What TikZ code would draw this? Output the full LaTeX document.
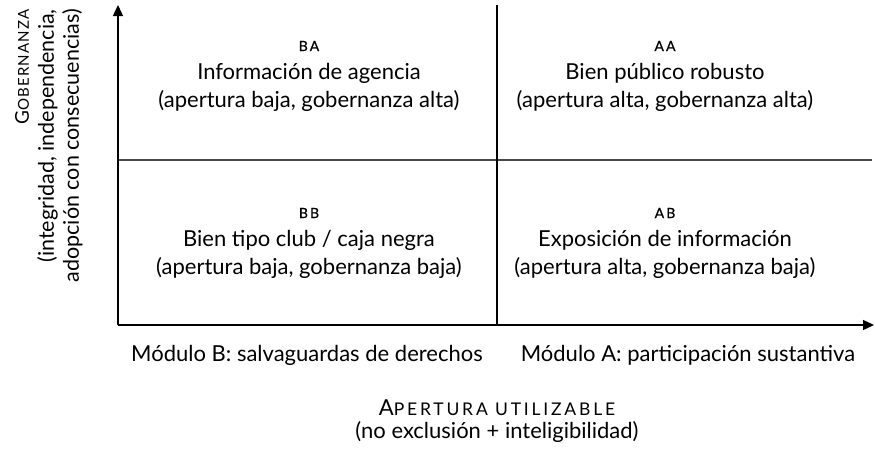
\documentclass[tikz,border=0pt]{standalone}
\usepackage{fontspec}
\setmainfont{Lato}
\usetikzlibrary{arrows.meta}
\newcommand\qcaps[1]{{\fontsize{14}{14}\selectfont\addfontfeature{LetterSpace=15,FakeBold=0.6}#1}}
\newcommand\capbig[1]{{\fontsize{22}{20}\selectfont #1}}
\newcommand\capsmall[1]{{\fontsize{17.5}{20}\selectfont\addfontfeature{LetterSpace=16}#1}}
\newcommand\ycapbig[1]{{\fontsize{19}{20}\selectfont #1}}
\newcommand\ycapsmall[1]{{\fontsize{15}{20}\selectfont\addfontfeature{LetterSpace=8}#1}}
\begin{document}
\begin{tikzpicture}[x=1pt,y=-1pt,
  txt/.style={font=\fontsize{22}{28}\selectfont, inner sep=0pt, align=center},
  axis/.style={line width=1.4pt, -{Triangle[length=11pt,width=10pt]}},
  divider/.style={line width=1.3pt, black},
  hdivider/.style={line width=1.8pt, black!72}]
\useasboundingbox (0,0) rectangle (875,450);
\coordinate (O) at (118,325);
\coordinate (Ytop) at (118,5);
\coordinate (Xend) at (874,325);
\coordinate (Mtop) at (497,5);
\coordinate (Mbot) at (497,325);
\coordinate (Hl) at (118,160);
\coordinate (Hr) at (872,160);
\draw[hdivider] (Hl) -- (Hr);
\draw[divider] (Mtop) -- (Mbot);
\draw[axis] (O) -- (Ytop);
\draw[axis] (O) -- (Xend);

\node[txt] (BA) at (309,76) {\qcaps{BA}\\Información de agencia\\(apertura baja, gobernanza alta)};
\node[txt] (AA) at (665,76) {\qcaps{AA}\\Bien público robusto\\(apertura alta, gobernanza alta)};
\node[txt] (BB) at (309,243) {\qcaps{BB}\\Bien tipo club / caja negra\\(apertura baja, gobernanza baja)};
\node[txt] (AB) at (665,243) {\qcaps{AB}\\Exposición de información\\(apertura alta, gobernanza baja)};

\node[txt] (modB) at (307,355) {Módulo B: salvaguardas de derechos};
\node[txt] (modA) at (688,355) {Módulo A: participación sustantiva};

\node[txt] (xlab) at (497,408) {\capbig{A}\capsmall{PERTURA UTILIZABLE}};
\node[txt] (xsub) at (497,432) {(no exclusión + inteligibilidad)};

\node[txt, rotate=90, anchor=east] (ylab) at (22,9) {\ycapbig{G}\ycapsmall{OBERNANZA}};
\node[txt, rotate=90, anchor=east, align=right, font=\fontsize{21.5}{25}\selectfont] (ysub) at (60,9) {(integridad, independencia,\\adopción con consecuencias)};
\end{tikzpicture}
\end{document}
